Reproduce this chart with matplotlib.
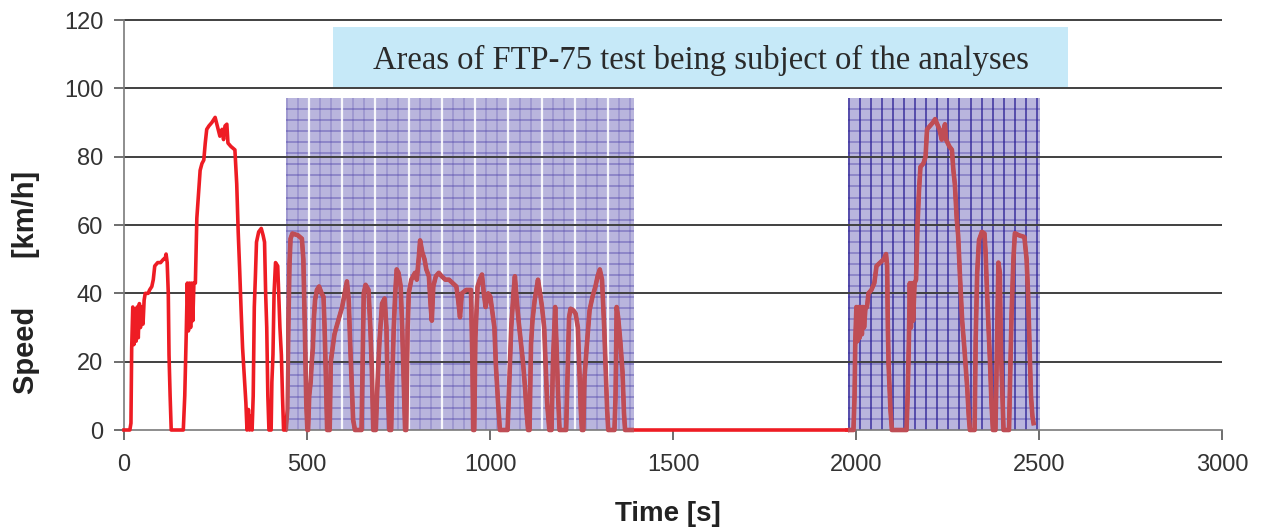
import matplotlib.pyplot as plt
import numpy as np
from matplotlib.patches import Rectangle

# FTP-75 speed trace (time [s], speed [km/h]) - cold start and stabilised phases
cold_phase = [
    (0, 0), (16, 0), (19, 2), (21, 24), (24, 36), (27, 25), (30, 35), (33, 26), (36, 36),
    (39, 27), (42, 37), (45, 30), (48, 36), (52, 31), (55, 38), (58, 40), (66, 40), (70, 41),
    (76, 42), (80, 44), (84, 48), (92, 49), (100, 49), (108, 50), (112, 50), (115, 51.5),
    (118, 49), (121, 40), (123, 22), (126, 10), (129, 0), (162, 0), (166, 10), (170, 28),
    (173, 43), (176, 29), (179, 43), (182, 30), (185, 43), (188, 32), (191, 43), (195, 43),
    (199, 62), (204, 70), (208, 76), (213, 78), (218, 79), (222, 84), (226, 88), (232, 89),
    (240, 90), (249, 91.5), (255, 89), (262, 86), (268, 88), (272, 85), (276, 89), (281, 89.5),
    (284, 84), (292, 83), (303, 82), (308, 72), (312, 58), (316, 47), (320, 35), (324, 24),
    (328, 17), (333, 8), (336, 0), (340, 6), (343, 0), (347, 4), (350, 0), (353, 10),
    (356, 36), (359, 45), (362, 55), (368, 58), (375, 59), (380, 57), (384, 55), (387, 40),
    (390, 30), (393, 10), (396, 0), (402, 0), (404, 14), (407, 22), (410, 40), (414, 49),
    (420, 48), (426, 30), (430, 22), (433, 10), (436, 0), (442, 0), (446, 6), (449, 30),
    (452, 48), (455, 56), (460, 57.5), (475, 57), (486, 56), (490, 50), (494, 30), (498, 8),
    (501, 0), (503, 0), (506, 10), (510, 14), (513, 20), (516, 24), (519, 33), (522, 38),
    (527, 41), (533, 42), (540, 40), (545, 39), (548, 30), (551, 18), (555, 0), (562, 0),
    (565, 20), (570, 24), (575, 28), (580, 30), (588, 33), (596, 36), (603, 40), (609, 43.5),
    (614, 38), (618, 25), (622, 14), (626, 3), (631, 0), (649, 0), (652, 20), (655, 40),
    (660, 42.5), (668, 41), (673, 30), (677, 18), (681, 0), (688, 0), (692, 12), (698, 26),
    (705, 37), (712, 38.5), (717, 30), (720, 14), (725, 0), (730, 0), (733, 15), (737, 30),
    (741, 40), (745, 47), (750, 46), (756, 42), (760, 30), (764, 15), (768, 0), (771, 0),
    (775, 30), (778, 40), (785, 44), (795, 46), (800, 44), (805, 50), (809, 55.5), (815, 52),
    (821, 50), (826, 47), (833, 45), (838, 36), (841, 32), (845, 42), (852, 45), (860, 46),
    (868, 45), (878, 44), (888, 44), (898, 43), (908, 42), (913, 38), (918, 33), (923, 40),
    (935, 41), (948, 41), (950, 30), (952, 19), (954, 0), (957, 0), (960, 27), (966, 42),
    (972, 44), (978, 45.5), (983, 40), (988, 36), (995, 40), (1001, 39), (1006, 35),
    (1012, 30), (1016, 19), (1022, 8), (1027, 0), (1048, 0), (1052, 12), (1058, 30),
    (1064, 40), (1068, 45), (1073, 38), (1078, 32), (1084, 26), (1090, 20), (1096, 12),
    (1100, 5), (1104, 0), (1108, 0), (1112, 25), (1116, 32), (1122, 38), (1131, 44),
    (1137, 40), (1142, 36), (1148, 30), (1152, 19), (1156, 8), (1162, 0), (1168, 0),
    (1172, 20), (1178, 36), (1182, 24), (1186, 10), (1190, 0), (1208, 0), (1212, 17),
    (1216, 33), (1220, 35.5), (1228, 35), (1234, 34), (1240, 30), (1244, 18), (1248, 6),
    (1251, 0), (1255, 0), (1258, 15), (1264, 24), (1272, 35), (1280, 39), (1288, 42),
    (1294, 45), (1300, 47), (1306, 44), (1312, 30), (1316, 18), (1320, 6), (1323, 0),
    (1340, 0), (1343, 10), (1346, 36), (1350, 33), (1356, 26), (1362, 17), (1366, 5),
    (1369, 0), (1975, 0),
]

# hot start phase after the soak
hot_phase = [
    (1975, 0), (1993, 0), (1996, 10), (1998, 26), (2001, 36), (2004, 26), (2007, 36),
    (2010, 27), (2013, 36), (2016, 28), (2019, 36), (2022, 30), (2026, 36), (2030, 36),
    (2034, 40), (2042, 41), (2050, 43), (2056, 48), (2066, 49), (2076, 50), (2082, 51.5),
    (2085, 48), (2087, 30), (2089, 19), (2094, 6), (2098, 0), (2138, 0), (2141, 10),
    (2144, 24), (2147, 43), (2150, 30), (2153, 43), (2156, 32), (2160, 43), (2164, 44),
    (2168, 60), (2172, 70), (2176, 77), (2184, 78), (2190, 80), (2194, 88), (2202, 89),
    (2210, 90), (2216, 91), (2222, 89.5), (2228, 88), (2234, 85), (2240, 88), (2243, 89.5),
    (2246, 85), (2255, 83), (2262, 82), (2266, 76), (2270, 72), (2275, 62), (2279, 57),
    (2284, 45), (2290, 32), (2296, 24), (2300, 18), (2304, 12), (2308, 4), (2311, 0),
    (2324, 0), (2327, 27), (2331, 46), (2336, 55.6), (2344, 58), (2351, 57.5), (2354, 52),
    (2357, 43), (2362, 30), (2366, 20), (2370, 8), (2374, 0), (2381, 0), (2385, 24),
    (2389, 49), (2393, 46), (2396, 23), (2400, 10), (2403, 0), (2418, 0), (2421, 15),
    (2425, 34), (2430, 50), (2434, 57.6), (2445, 57), (2460, 56.5), (2466, 50), (2470, 40),
    (2474, 25), (2478, 10), (2482, 4), (2485, 2),
]

# analysed parts of the test
area_start = [443, 1978]
area_end = [1393, 2503]
area_top = 97.2

# caption box
caption = "Areas of FTP-75 test being subject of the analyses"
caption_x = [571, 2579]
caption_y = [100.3, 118]

x_ticks = [0, 500, 1000, 1500, 2000, 2500, 3000]
y_ticks = [0, 20, 40, 60, 80, 100, 120]

plt.rcParams['font.family'] = ['Liberation Sans', 'DejaVu Sans']

fig = plt.figure(figsize=(12.64, 5.31), dpi=100)
ax = fig.add_axes([0.0981, 0.1902, 0.8687, 0.7721])

t_cold, v_cold = zip(*cold_phase)
t_hot, v_hot = zip(*hot_phase)

red = '#ee1c24'
muted = '#bf4d55'
ax.plot(t_cold, v_cold, color=red, lw=2.6, zorder=3, clip_on=False)
ax.plot(t_hot, v_hot, color=red, lw=2.6, zorder=3, clip_on=False)

# shaded areas with a fine grid pattern
for i, (x0, x1) in enumerate(zip(area_start, area_end)):
    rect = Rectangle((x0, 0), x1 - x0, area_top, facecolor='#8079c1', alpha=0.55,
                     edgecolor='none', zorder=1)
    ax.add_patch(rect)
    ys = np.arange(area_top - 3.24, 0, -3.24)
    ax.hlines(ys, x0, x1, color='#4a3fa8', lw=1.1, alpha=0.5, zorder=1.2)
    xs = np.arange(x0 + 1.5, x1, 30.3)
    if i == 0:
        for k, xv in enumerate(xs):
            if k % 3 == 2:
                ax.vlines(xv, 0, area_top, color='white', lw=1.6, alpha=0.9, zorder=1.3)
            else:
                ax.vlines(xv, 0, area_top, color='#4a3fa8', lw=1.1, alpha=0.3, zorder=1.2)
    else:
        ax.vlines(xs, 0, area_top, color='#2c2096', lw=1.4, alpha=0.7, zorder=1.2)
    # trace drawn again inside the area in a muted tone
    clip = Rectangle((x0, -2), x1 - x0, area_top + 2, transform=ax.transData)
    for tt, vv in ((t_cold, v_cold), (t_hot, v_hot)):
        ln, = ax.plot(tt, vv, color=muted, lw=3.3, zorder=3.5, clip_on=True)
        ln.set_clip_path(clip)

# caption
ax.add_patch(Rectangle((caption_x[0], caption_y[0]), caption_x[1] - caption_x[0],
                       caption_y[1] - caption_y[0], facecolor='#c6e9f8', edgecolor='none',
                       zorder=1))
ax.text(sum(caption_x) / 2, 105.6, caption, ha='center', va='baseline',
        family=['Liberation Serif', 'DejaVu Serif'], fontsize=23.5, color='#2a2a2a', zorder=4)

# horizontal gridlines
ax.hlines(y_ticks[1:], 0, 3000, color='#404040', lw=1.4, zorder=2.5, clip_on=False)

ax.set_xlim(0, 3000)
ax.set_ylim(0, 120)
ax.set_xticks(x_ticks)
ax.set_yticks(y_ticks)
for s in ('top', 'right'):
    ax.spines[s].set_visible(False)
for s in ('left', 'bottom'):
    ax.spines[s].set_color('#7a7a7a')
    ax.spines[s].set_linewidth(1.2)
ax.tick_params(direction='out', length=7, width=1.2, color='#555555',
               labelsize=17, labelcolor='#333333')
ax.tick_params(axis='x', pad=10)
ax.tick_params(axis='y', pad=8)

fig.text(26 / 1264, 1 - 282 / 531, 'Speed      [km/h]', rotation=90, ha='center',
         va='center', fontsize=21, fontweight='bold', color='#222222')
fig.text(668 / 1264, 1 - 514 / 531, 'Time [s]', ha='center', va='center',
         fontsize=20, fontweight='bold', color='#222222')

fig.savefig('out.png', dpi=100)
